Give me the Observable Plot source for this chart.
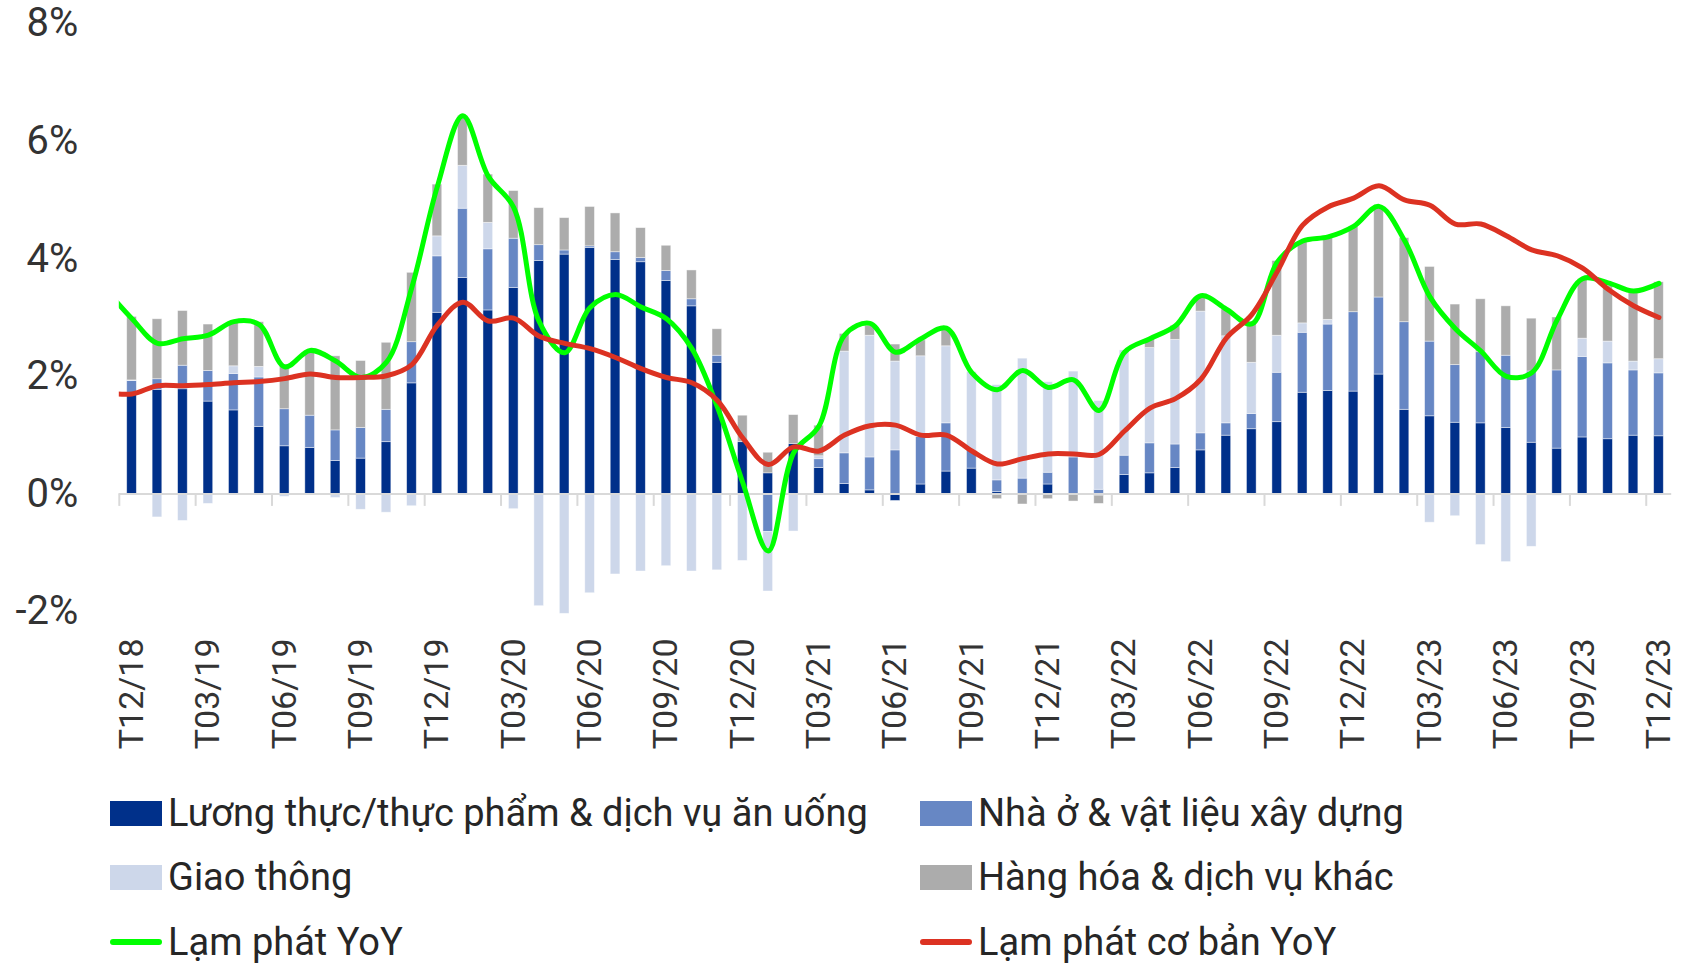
<!DOCTYPE html>
<html><head><meta charset="utf-8">
<script src="https://cdn.jsdelivr.net/npm/d3@7"></script>
<script src="https://cdn.jsdelivr.net/npm/@observablehq/plot@0.6"></script>
<style>
body{margin:0;background:#fff;font-family:Roboto,sans-serif;}
#wrap{position:relative;width:1691px;height:964px;overflow:hidden;background:#fff}
#chart{position:absolute;left:0;top:0}
.item{position:absolute;display:flex;align-items:center;font-size:38px;color:#262626;white-space:nowrap;transform:translateY(-50%);line-height:1}
.sw{width:52px;height:25px;margin-right:6px;flex:none}
.ln{width:52px;height:6px;margin-right:6px;border-radius:3px;flex:none}
</style></head><body><div id="wrap"><div id="chart"></div></div>
<script>
const months = ["T12/18","T01/19","T02/19","T03/19","T04/19","T05/19","T06/19","T07/19","T08/19","T09/19","T10/19","T11/19",
"T12/19","T01/20","T02/20","T03/20","T04/20","T05/20","T06/20","T07/20","T08/20","T09/20","T10/20","T11/20",
"T12/20","T01/21","T02/21","T03/21","T04/21","T05/21","T06/21","T07/21","T08/21","T09/21","T10/21","T11/21",
"T12/21","T01/22","T02/22","T03/22","T04/22","T05/22","T06/22","T07/22","T08/22","T09/22","T10/22","T11/22",
"T12/22","T01/23","T02/23","T03/23","T04/23","T05/23","T06/23","T07/23","T08/23","T09/23","T10/23","T11/23","T12/23"];

// Lương thực/thực phẩm & dịch vụ ăn uống
const food = [1.68,1.77,1.78,1.57,1.42,1.14,0.81,0.78,0.56,0.60,
0.88,1.88,3.08,3.67,3.12,3.50,3.96,4.07,4.18,3.98,
3.94,3.62,3.19,2.23,0.88,0.35,0.85,0.44,0.17,0.06,
-0.12,0.16,0.38,0.43,0.03,0.00,0.16,0.00,-0.03,0.32,
0.35,0.44,0.74,0.99,1.10,1.22,1.72,1.75,1.74,2.03,
1.43,1.32,1.21,1.20,1.12,0.87,0.77,0.96,0.93,0.99,0.98];
// Nhà ở & vật liệu xây dựng
const housing = [0.24,0.18,0.40,0.52,0.62,0.84,0.63,0.55,0.52,0.52,
0.55,0.70,0.96,1.18,1.04,0.84,0.27,0.07,0.03,0.13,
0.07,0.17,0.12,0.12,0.00,-0.65,0.00,0.15,0.52,0.56,
0.74,0.81,0.82,0.30,0.20,0.26,0.20,0.62,0.07,0.33,
0.51,0.40,0.29,0.21,0.26,0.84,1.02,1.13,1.35,1.31,
1.49,1.27,0.98,1.21,1.23,1.21,1.33,1.37,1.29,1.11,1.07];
// Giao thông
const transport = [0.01,-0.40,-0.46,-0.17,0.13,0.18,-0.05,0.00,-0.07,-0.27,
-0.32,-0.21,0.34,0.73,0.45,-0.26,-1.91,-2.04,-1.69,-1.37,
-1.32,-1.23,-1.32,-1.30,-1.14,-1.01,-0.64,0.05,1.73,2.07,
1.51,1.37,1.31,1.34,1.62,2.04,1.54,1.46,1.51,1.79,
1.62,1.78,2.07,1.48,0.87,0.63,0.16,0.08,0.00,0.00,
-0.03,-0.49,-0.38,-0.87,-1.16,-0.90,-0.03,0.31,0.37,0.15,0.24];
// Hàng hóa & dịch vụ khác
const other = [1.08,1.02,0.93,0.79,0.76,0.76,0.76,1.08,1.26,1.14,
1.14,1.18,0.88,0.85,0.82,0.81,0.63,0.55,0.67,0.66,
0.51,0.43,0.49,0.45,0.45,0.35,0.49,0.52,0.30,0.17,
0.29,0.27,0.31,0.00,-0.09,-0.18,-0.09,-0.13,-0.14,0.00,
0.15,0.24,0.23,0.46,0.70,1.27,1.39,1.40,1.45,1.52,
1.43,1.27,1.03,0.90,0.84,0.90,0.90,1.01,0.95,1.22,1.31];

// Lines: first value is T11/18 (just left of the plot, clipped)
const cpiYoY = [3.46,2.98,2.56,2.64,2.70,2.93,2.88,2.16,2.44,2.26,1.98,2.24,3.52,
5.23,6.43,5.40,4.87,2.93,2.40,3.17,3.39,3.18,2.98,2.47,1.48,
0.19,-0.97,0.70,1.16,2.70,2.90,2.41,2.64,2.82,2.06,1.77,2.10,
1.81,1.94,1.42,2.41,2.64,2.86,3.37,3.14,2.89,3.94,4.30,4.37,
4.55,4.89,4.31,3.35,2.81,2.43,2.00,2.06,2.96,3.66,3.59,3.45,3.58];
const coreYoY = [1.72,1.70,1.84,1.84,1.86,1.89,1.91,1.96,2.04,1.98,1.98,2.01,2.20,
2.87,3.26,2.94,2.99,2.68,2.56,2.47,2.32,2.13,1.98,1.89,1.59,
0.95,0.50,0.80,0.73,1.00,1.16,1.17,1.00,1.00,0.73,0.51,0.60,
0.68,0.68,0.67,1.07,1.46,1.62,1.95,2.65,3.05,3.78,4.57,4.88,
5.03,5.24,5.00,4.91,4.59,4.59,4.39,4.15,4.05,3.84,3.48,3.20,3.00];

const seriesNames = ["Lương thực/thực phẩm & dịch vụ ăn uống","Nhà ở & vật liệu xây dựng","Giao thông","Hàng hóa & dịch vụ khác"];
const seriesColors = ["#00308a","#6787c4","#cdd7ea","#acacac"];
const lineNames = ["Lạm phát YoY","Lạm phát cơ bản YoY"];
const lineColors = ["#00ff00","#dc3222"];

const seriesData = [food, housing, transport, other];
const rows = [];
months.forEach((m, i) => {
  seriesData.forEach((arr, s) => rows.push({i, s, value: arr[i]}));
});
const cpiRows = cpiYoY.map((v, k) => ({i: k - 1, v}));
const coreRows = coreYoY.map((v, k) => ({i: k - 1, v}));
const labelIdx = d3.range(0, months.length, 3);
const tickIdx = labelIdx.map(i => i - 0.5);
const halfW = 0.19;

const chart = Plot.plot({
  width: 1691,
  height: 780,
  marginLeft: 118.8,
  marginRight: 19.8,
  marginTop: 23,
  marginBottom: 169,
  style: {fontFamily: "Roboto, sans-serif", color: "#333", background: "transparent"},
  x: {type: "linear", domain: [-0.5, months.length - 0.5], axis: null},
  y: {domain: [-2, 8], axis: null},
  marks: [
    Plot.rectY(rows, Plot.stackY({
      x1: d => d.i - halfW, x2: d => d.i + halfW, y: "value",
      fill: d => seriesColors[d.s], order: null,
      stroke: "white", strokeWidth: 0.8, strokeOpacity: 0.55
    })),
    Plot.ruleY([0], {stroke: "#d9d9d9", strokeWidth: 2}),
    Plot.ruleX(tickIdx, {x: d => d, y1: 0, y2: 0, insetBottom: -12.5, stroke: "#d9d9d9", strokeWidth: 2}),
    Plot.axisY({ticks: [-2, 0, 2, 4, 6, 8], tickFormat: d => d + "%", tickSize: 0, tickPadding: 41, fontSize: 40, label: null}),
    Plot.axisX({ticks: labelIdx, tickFormat: i => months[i], tickRotate: -90, tickSize: 0, tickPadding: 27, fontSize: 34, label: null, anchor: "bottom"}),
    Plot.line(cpiRows, {x: "i", y: "v", stroke: lineColors[0], strokeWidth: 5, curve: "catmull-rom", clip: true}),
    Plot.line(coreRows, {x: "i", y: "v", stroke: lineColors[1], strokeWidth: 5, curve: "catmull-rom", clip: true})
  ]
});
document.getElementById("chart").appendChild(chart);

// Legend (HTML, below the SVG)
const wrap = document.getElementById("wrap");
const legendItems = [
  {name: seriesNames[0], color: seriesColors[0], kind: "sw", left: 110, top: 813},
  {name: seriesNames[1], color: seriesColors[1], kind: "sw", left: 920, top: 813},
  {name: seriesNames[2], color: seriesColors[2], kind: "sw", left: 110, top: 877},
  {name: seriesNames[3], color: seriesColors[3], kind: "sw", left: 920, top: 877},
  {name: lineNames[0], color: lineColors[0], kind: "ln", left: 110, top: 942},
  {name: lineNames[1], color: lineColors[1], kind: "ln", left: 920, top: 942}
];
legendItems.forEach(it => {
  const d = document.createElement("div");
  d.className = "item";
  d.style.left = it.left + "px";
  d.style.top = it.top + "px";
  const s = document.createElement("span");
  s.className = it.kind;
  s.style.background = it.color;
  const t = document.createElement("span");
  t.textContent = it.name;
  d.appendChild(s); d.appendChild(t);
  wrap.appendChild(d);
});
</script>
</body></html>
